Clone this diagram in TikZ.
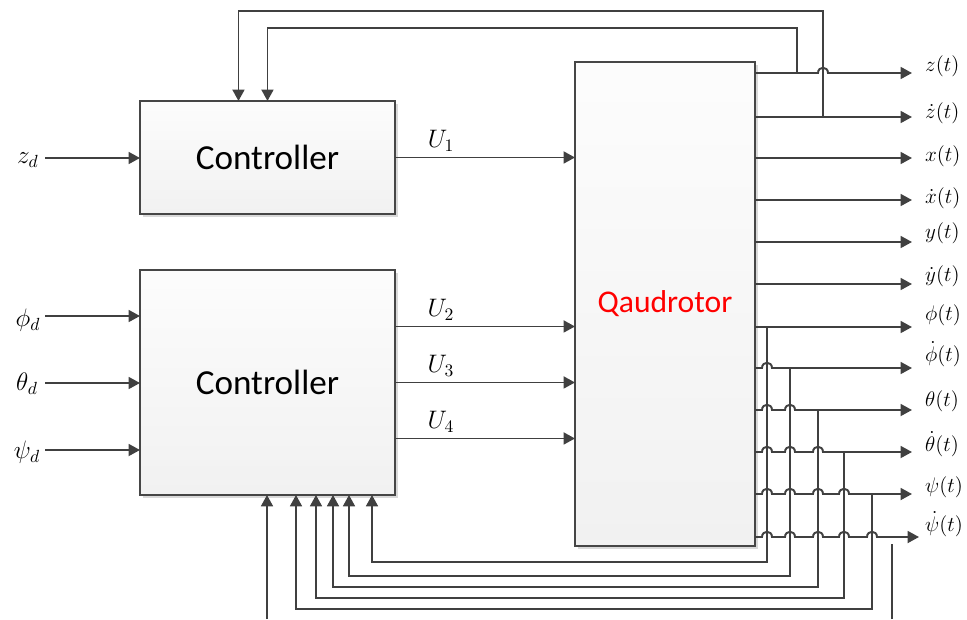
\documentclass[tikz,border=0pt]{standalone}
\usepackage{fontspec}
\newfontfamily\blockfont{Carlito}
\usetikzlibrary{arrows.meta,calc,shadows}
\definecolor{wirecol}{HTML}{404040}

\begin{document}
\begin{tikzpicture}[x=0.02cm, y=-0.02cm, >={Triangle[length=6.5pt,width=6.8pt]},
  block/.style={draw=gray!55!black, line width=0.7pt, top color=gray!2, bottom color=gray!11,
    inner sep=0pt, outer sep=0pt, anchor=north west,
    drop shadow={shadow xshift=1.6pt, shadow yshift=-1.6pt, fill=gray!30, opacity=1}},
  wiring/.style={draw=wirecol, line width=1.1pt},
  signal/.style={wiring, ->},
  inlab/.style={font=\fontsize{14.5}{16}\selectfont},
  outlab/.style={anchor=base west, inner sep=0.5pt, font=\fontsize{13}{14}\selectfont}]
  \useasboundingbox (0,0) rectangle (967,619);

  % blocks
  \node[block, minimum width=5.1cm, minimum height=2.26cm, font=\blockfont\fontsize{20}{24}\selectfont] (ctrlZ) at (140,101) {Controller};
  \node[block, minimum width=5.1cm, minimum height=4.5cm, font=\blockfont\fontsize{20}{24}\selectfont] (ctrlA) at (140,270) {Controller};
  \node[block, minimum width=3.6cm, minimum height=9.68cm, text=red, font=\blockfont\fontsize{18}{22}\selectfont] (quad) at (575,62) {Qaudrotor};

  % references
  \node[inlab] (zd) at (28,160) {$z_d$};
  \node[inlab] (phid) at (28,320) {$\phi_d$};
  \node[inlab] (thetad) at (27,384) {$\theta_d$};
  \node[inlab] (psid) at (27,452) {$\psi_d$};
  \foreach \nm/\y in {zd/158, phid/316, thetad/383, psid/450} {
    \coordinate (in-\nm) at (45,\y);
    \draw[signal] (in-\nm) -- (in-\nm -| ctrlA.west);
  }

  % control inputs U1..U4
  \draw[signal] (ctrlZ.east) -- (ctrlZ.east -| quad.west);
  \node[inlab] (u1) at (441,141) {$U_1$};
  \foreach \i/\dy in {2/-56, 3/0, 4/56} {
    \coordinate (u\i-s) at ($(ctrlA.east)+(0,\dy)$);
    \draw[signal] (u\i-s) -- (u\i-s -| quad.west);
    \node[inlab] (u\i) at ($(u\i-s)+(46,-17)$) {$U_\i$};
  }

  % outputs
  \foreach \nm/\y in {zdot/117, x/158, xdot/200, y/242, ydot/284, phi/327}
    \draw[signal] (755,\y) -- (912,\y);
  \foreach \y/\hops/\tip in {73/{823}/912, 368/{767}/912, 410/{767,790}/912,
      452/{767,790,818}/912, 494/{767,790,818,844}/912, 537/{767,790,818,844,872}/919}
    \draw[signal] (755,\y) \foreach \h in \hops {
      -- ({\h-5},\y) .. controls ({\h-5},{\y-7}) and ({\h+5},{\y-7}) .. ({\h+5},\y)} -- (\tip,\y);
  \foreach \nm/\b/\lab in {z/71/{$z(t)$}, zdot/118/{$\dot z(t)$}, x/161/{$x(t)$},
      xdot/203/{$\dot x(t)$}, y/238/{$y(t)$}, ydot/281/{$\dot y(t)$}, phi/320/{$\phi(t)$},
      phidot/361/{$\dot\phi(t)$}, theta/406/{$\theta(t)$}, thetadot/451/{$\dot\theta(t)$},
      psi/492/{$\psi(t)$}, psidot/531/{$\dot\psi(t)$}}
    \node[outlab] (l-\nm) at (924,\b) {\lab};

  % feedback to altitude controller
  \draw[signal] (797,73) -- (797,28) -| (ctrlZ.north);
  \draw[signal] (823,117) -- (823,11) -| ($(ctrlZ.north)+(-29,0)$);

  % feedback to attitude controller
  \foreach \tx/\ty/\lev/\ax in {767/327/562/372, 790/368/576/349, 818/410/587/333,
      844/452/598/316, 872/494/609/296}
    \draw[signal] (\tx,\ty) |- (\ax,\lev) coordinate (fb) -- (fb |- ctrlA.south);
  \coordinate (fbo) at (267,619);
  \draw[signal] (fbo) -- (fbo |- ctrlA.south);
  \draw[wiring] (892,619) -- (892,544);
\end{tikzpicture}
\end{document}
